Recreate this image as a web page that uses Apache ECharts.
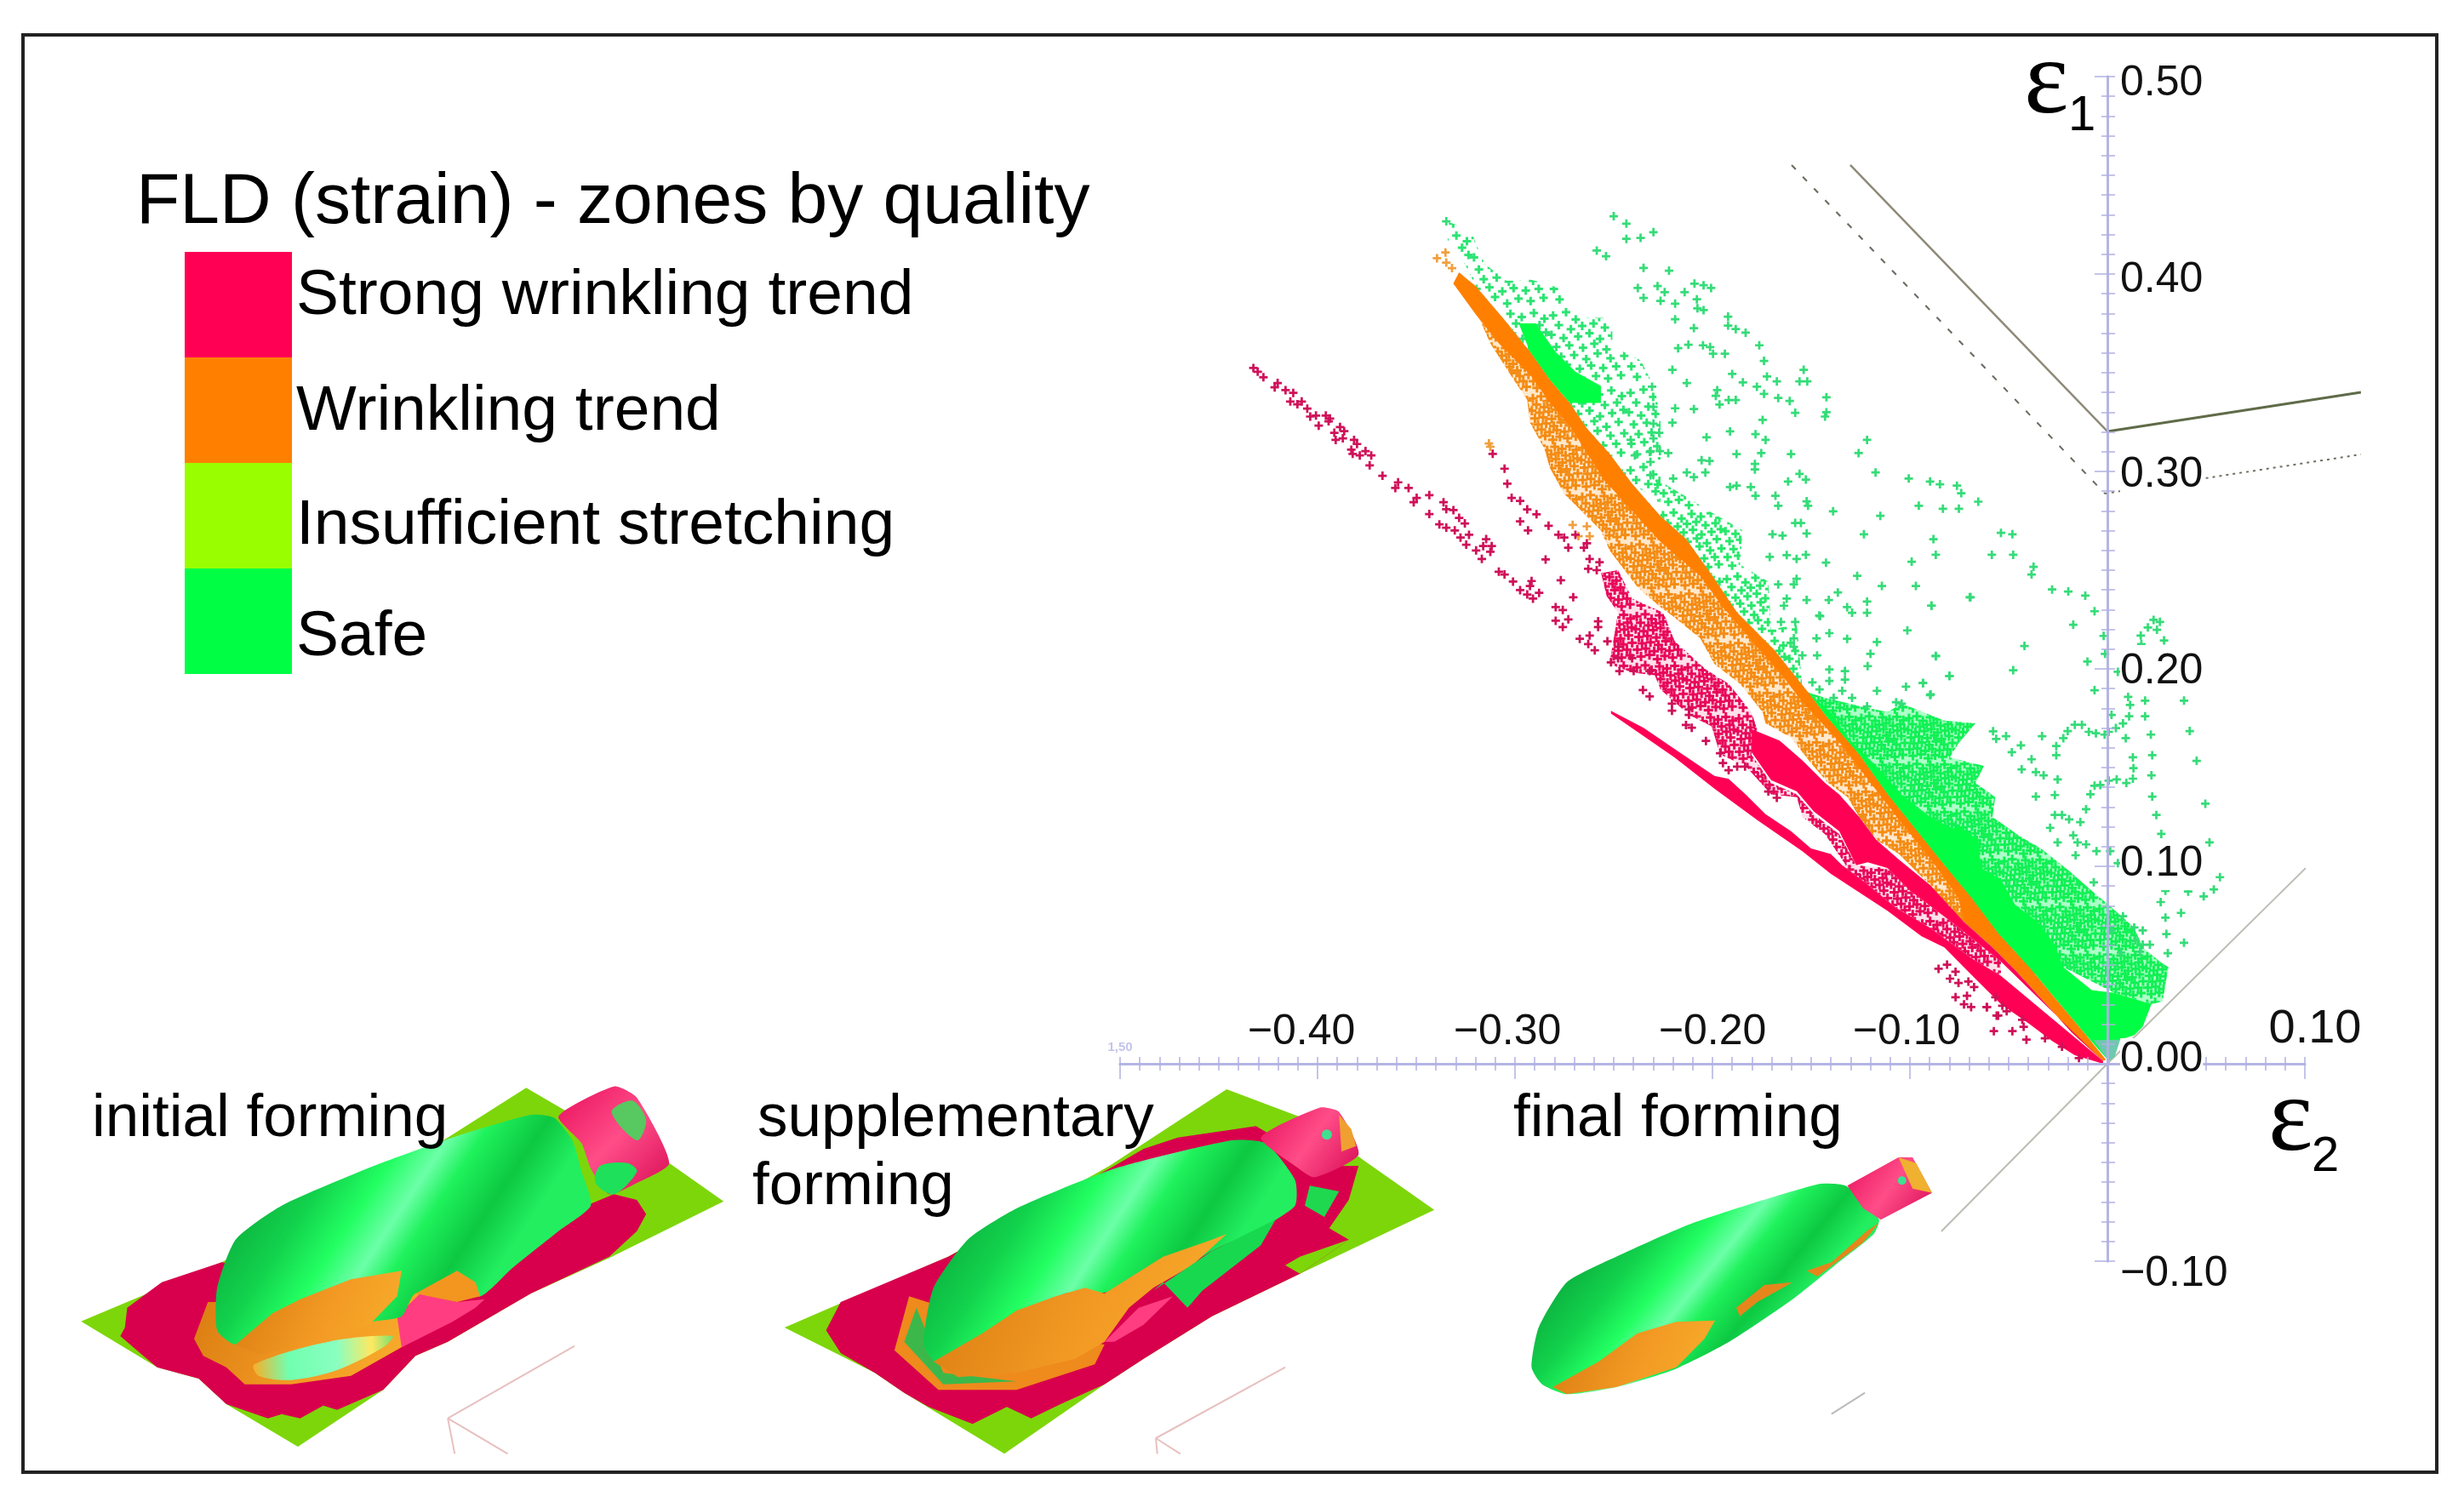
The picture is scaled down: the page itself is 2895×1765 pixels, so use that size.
<!DOCTYPE html>
<html><head><meta charset="utf-8">
<style>html,body{margin:0;padding:0;background:#fff}#c{width:2895px;height:1765px}</style>
<script src="https://cdn.jsdelivr.net/npm/echarts@6/dist/echarts.min.js"></script>
</head><body><div id="c"></div>
<script>
const zoneNames = ['Strong wrinkling trend','Wrinkling trend','Insufficient stretching','Safe'];
const xTickLabels = ['1,50','−0.40','−0.30','−0.20','−0.10','','0.10'];
const yTickLabels = ['−0.10','0.00','0.10','0.20','0.30','0.40','0.50'];
const titleText = 'FLD (strain) - zones by quality';

// forming limit curves and the equal-biaxial / pure-shear guide line
const limitSolid = [[-0.1302,0.4552],[0,0.3203]];
const limitSolidRight = [[0,0.3203],[0.1284,0.3401]];
const limitDashed = [[-0.1599,0.4552],[-0.0013,0.2888]];
const limitDotted = [[-0.0013,0.2888],[0.1284,0.3086]];
const guideLine = [[-0.0841,-0.0849],[0,0],[0.1004,0.0991]];

// individually readable marks
const safePoints = [
[-0.3348,0.4267],[-0.2586,0.4119],[-0.2500,0.4293],[-0.2436,0.4255],[-0.2436,0.4178],[-0.2364,0.4183],[-0.2299,0.4212],[-0.2539,0.4090],[-0.2349,0.4031],[-0.2220,0.4017],[-0.2378,0.3929],[-0.2278,0.3939],[-0.2242,0.3908],[-0.2349,0.3879],[-0.2263,0.3864],[-0.2189,0.3850],[-0.2141,0.3908],[-0.2091,0.3951],[-0.2045,0.3943],[-0.2007,0.3929],[-0.2079,0.3872],[-0.2076,0.3826],[-0.2045,0.3817],[-0.2189,0.3771],[-0.2094,0.3726],[-0.1921,0.3784],[-0.1921,0.3739],[-0.1882,0.3721],[-0.1832,0.3703],[-0.1763,0.3639],[-0.2174,0.3624],[-0.2122,0.3642],[-0.2048,0.3639],[-0.2012,0.3630],[-0.1997,0.3596],[-0.1937,0.3596],[-0.1739,0.3560],[-0.1538,0.3515],[-0.2203,0.3515],[-0.1900,0.3494],[-0.1724,0.3481],[-0.1674,0.3456],[-0.1559,0.3456],[-0.1520,0.3456],[-0.1846,0.3451],[-0.1775,0.3429],[-0.2130,0.3448],[-0.2306,0.3429],[-0.1976,0.3412],[-0.1983,0.3383],[-0.1739,0.3393],[-0.1667,0.3372],[-0.1609,0.3357],[-0.1423,0.3376],[-0.1918,0.3362],[-0.1882,0.3362],[-0.1964,0.3339],[-0.2299,0.3327],[-0.2189,0.3320],[-0.2094,0.3316],[-0.1581,0.3297],[-0.1423,0.3300],[-0.1430,0.3278],[-0.1746,0.3261],[-0.2203,0.3247],[-0.2299,0.3242],[-0.2270,0.3196],[-0.1911,0.3203],[-0.1782,0.3189],[-0.1731,0.3160],[-0.2030,0.3173],[-0.2414,0.3160],[-0.2299,0.3167],[-0.1217,0.3160],[-0.1260,0.3093],[-0.2313,0.3103],[-0.2266,0.3103],[-0.2224,0.3093],[-0.1878,0.3088],[-0.1753,0.3093],[-0.1602,0.3088],[-0.2055,0.3057],[-0.2015,0.3053],[-0.2393,0.3081],[-0.2314,0.3048],[-0.1785,0.3038],[-0.1785,0.3010],[-0.1174,0.2995],[-0.2130,0.2995],[-0.2094,0.2971],[-0.2036,0.2995],[-0.2199,0.2964],[-0.2314,0.2981],[-0.1559,0.2988],[-0.1527,0.2959],[-0.1617,0.2949],[-0.1006,0.2964],[-0.0898,0.2949],[-0.0848,0.2935],[-0.0762,0.2928],[-0.0740,0.2890],[-0.0654,0.2847],[-0.1911,0.2921],[-0.1878,0.2928],[-0.1806,0.2921],[-0.1782,0.2877],[-0.1681,0.2877],[-0.1667,0.2826],[-0.1523,0.2849],[-0.1516,0.2826],[-0.0955,0.2826],[-0.0833,0.2811],[-0.0752,0.2811],[-0.1389,0.2798],[-0.1150,0.2775],[-0.1581,0.2739],[-0.1552,0.2739],[-0.1523,0.2686],[-0.1696,0.2682],[-0.1645,0.2675],[-0.1233,0.2682],[-0.0881,0.2657],[-0.0869,0.2578],[-0.0539,0.2689],[-0.0481,0.2682],[-0.0585,0.2578],[-0.0477,0.2578],[-0.1710,0.2567],[-0.1624,0.2576],[-0.1574,0.2557],[-0.1527,0.2578],[-0.1425,0.2538],[-0.0991,0.2543],[-0.1267,0.2471],[-0.1667,0.2428],[-0.1574,0.2456],[-0.1588,0.2428],[-0.1142,0.2420],[-0.0970,0.2420],[-0.1365,0.2387],[-0.0697,0.2363],[-0.1523,0.2349],[-0.1411,0.2349],[-0.1217,0.2341],[-0.1217,0.2284],[-0.1624,0.2356],[-0.1638,0.2320],[-0.1318,0.2313],[-0.1293,0.2284],[-0.0891,0.2320],[-0.1459,0.2270],[-0.1581,0.2238],[-0.1653,0.2238],
[-0.1455,0.2267],[-0.1013,0.2195],[-0.1473,0.2155],[-0.1408,0.2181],[-0.1318,0.2152],[-0.1167,0.2136],[-0.1588,0.2155],[-0.1588,0.2112],[-0.1545,0.2068],[-0.1470,0.2068],[-0.1200,0.2076],[-0.1214,0.2014],[-0.0869,0.2064],[-0.0800,0.1964],[-0.0934,0.1928],[-0.1020,0.1910],[-0.0898,0.1867],[-0.1167,0.1889],[-0.1408,0.1997],[-0.1408,0.1939],[-0.1329,0.1989],[-0.1329,0.1946],[-0.1494,0.1932],[-0.1458,0.1896],[-0.1386,0.1853],[-0.1293,0.1853],[-0.1343,0.1889],[-0.1217,0.1810],[-0.1070,0.1831],[-0.1042,0.1824],
[-0.0374,0.2517],[-0.0384,0.2478],[-0.0280,0.2402],[-0.0198,0.2392],[-0.0112,0.2371],[-0.0693,0.2363],[-0.0891,0.2320],[-0.0065,0.2292],[0.0234,0.2248],[0.0266,0.2238],[-0.0173,0.2224],[0.0205,0.2210],[0.0251,0.2198],[0.0169,0.2169],[0.0172,0.2126],[0.0287,0.2144],[-0.0019,0.2167],[-0.0420,0.2116],[-0.0869,0.2066],[-0.0012,0.2076],[-0.0101,0.2037],[-0.0477,0.1993],[0.0053,0.1985],[-0.0800,0.1964],[-0.0934,0.1928],[-0.0895,0.1871],[-0.0065,0.1892],[0.0105,0.1858],[0.0115,0.1817],[0.0110,0.1760],[0.0191,0.1839],[0.0191,0.1760],[0.0388,0.1839],[0.0021,0.1767],[-0.0129,0.1717],[-0.0165,0.1717],[-0.0201,0.1685],[-0.0223,0.1649],[-0.0259,0.1609],[-0.0259,0.1563],[-0.0094,0.1681],[-0.0058,0.1674],[-0.0014,0.1667],[0.0007,0.1681],[0.0043,0.1700],[0.0079,0.1724],[0.0417,0.1685],[0.0220,0.1667],[0.0093,0.1649],[-0.0331,0.1659],[-0.0438,0.1613],[-0.0484,0.1578],[-0.0513,0.1659],[-0.0563,0.1645],[-0.0579,0.1684],[0.0227,0.1563],[0.0129,0.1552],[0.0132,0.1497],[0.0129,0.1444],[0.0096,0.1422],[0.0047,0.1440],[0.0007,0.1434],[-0.0036,0.1412],[-0.0065,0.1408],[-0.0086,0.1365],[0.0452,0.1534],[-0.0384,0.1542],[-0.0434,0.1491],[-0.0362,0.1477],[-0.0323,0.1461],[-0.0252,0.1440],[0.0223,0.1461],[0.0227,0.1353],[-0.0266,0.1361],[-0.0362,0.1353],[0.0496,0.1317],[-0.0108,0.1289],[0.0248,0.1260],[-0.0266,0.1260],[-0.0230,0.1260],[-0.0194,0.1238],[-0.0137,0.1224],[-0.0290,0.1195],[0.0273,0.1164],[-0.0173,0.1157],[-0.0151,0.1121],[-0.0108,0.1111],[-0.0252,0.1121],[0.0517,0.1121],[-0.0055,0.1077],[0.0014,0.1077],[-0.0161,0.1056],[0.0053,0.1016],[0.0570,0.0945],[0.0539,0.0883],[0.0488,0.0848],[0.0409,0.0872],[0.0294,0.0876],[-0.0069,0.0919],
[0.0270,0.0819],[0.0373,0.0764],[0.0294,0.0740],[0.0299,0.0657],[0.0388,0.0613],[0.0306,0.0560],[0.0079,0.0747],[0.0136,0.0690],[0.0179,0.0675],[0.0143,0.0625],[0.0179,0.0603],[0.0215,0.0603],[0.0165,0.0567],[0.0069,0.0563],[0.0021,0.0675]];

const wrinklingPoints = [[-0.3132,0.3142],[-0.3125,0.3125],[-0.3395,0.4080],[-0.3352,0.4109],[-0.3348,0.4058],[-0.3319,0.4030],[-0.2708,0.2729],[-0.2636,0.2722],[-0.2622,0.2672],[-0.2679,0.2672]];

const strongPoints = [
[-0.4325,0.3524],[-0.4303,0.3505],[-0.4274,0.3477],[-0.4202,0.3448],[-0.4217,0.3426],[-0.4162,0.3412],[-0.4123,0.3398],[-0.4138,0.3354],[-0.4102,0.3340],[-0.4080,0.3354],[-0.4052,0.3318],[-0.4037,0.3278],[-0.3994,0.3232],[-0.4008,0.3283],[-0.3958,0.3283],[-0.3937,0.3268],[-0.3944,0.3254],[-0.3886,0.3225],[-0.3865,0.3204],[-0.3915,0.3196],[-0.3908,0.3160],[-0.3872,0.3168],[-0.3815,0.3160],[-0.3800,0.3139],[-0.3829,0.3110],[-0.3822,0.3089],[-0.3786,0.3081],[-0.3757,0.3103],[-0.3728,0.3081],[-0.3736,0.3031],[-0.3671,0.2978],[-0.3592,0.2945],[-0.3606,0.2916],[-0.3539,0.2916],[-0.3498,0.2866],[-0.3513,0.2844],[-0.3434,0.2880],[-0.3362,0.2844],[-0.3348,0.2809],[-0.3312,0.2804],[-0.3434,0.2784],[-0.3283,0.2765],[-0.3254,0.2737],[-0.3383,0.2732],[-0.3348,0.2715],[-0.3305,0.2701],[-0.3276,0.2665],[-0.3233,0.2679],[-0.3247,0.2629],[-0.3146,0.2657],[-0.3161,0.2622],[-0.3118,0.2622],[-0.3125,0.2593],[-0.3197,0.2600],[-0.3168,0.2557],[-0.3082,0.2492],[-0.3053,0.2478],[-0.3010,0.2442],[-0.2916,0.2445],[-0.2924,0.2420],[-0.2974,0.2399],[-0.2938,0.2377],[-0.2909,0.2356],[-0.2878,0.2385],[-0.2794,0.2313],[-0.2758,0.2298],[-0.2794,0.2244],[-0.2730,0.2251],[-0.2758,0.2212],
[-0.3113,0.3089],[-0.3053,0.3014],[-0.3039,0.2938],[-0.3017,0.2866],[-0.2974,0.2851],[-0.2938,0.2808],[-0.2891,0.2783],[-0.2974,0.2747],[-0.2934,0.2701],[-0.2830,0.2725],[-0.2845,0.2554],[-0.2768,0.2449],[-0.2705,0.2363],[-0.2780,0.2679],[-0.2751,0.2665],[-0.2730,0.2614],[-0.2694,0.2679],[-0.2651,0.2614],[-0.2636,0.2636],[-0.2622,0.2557],[-0.2572,0.2540],[-0.2629,0.2507],[-0.2586,0.2500],
[-0.2579,0.2241],[-0.2579,0.2212],[-0.2622,0.2169],[-0.2672,0.2152],[-0.2629,0.2126],[-0.2596,0.2094],[-0.2532,0.2140],[-0.2478,0.2112],[-0.2478,0.2054],[-0.2514,0.2033],[-0.2407,0.2054],[-0.2471,0.1989],[-0.2399,0.1989],[-0.2318,0.1989],[-0.2352,0.1893],[-0.2318,0.1860],[-0.2205,0.1824],[-0.2205,0.1788],[-0.2119,0.1795],[-0.2119,0.1767],[-0.2134,0.1716],[-0.2105,0.1702],[-0.2033,0.1635],[-0.1961,0.1573],[-0.1947,0.1523],[-0.1918,0.1487],[-0.1875,0.1505],[-0.1835,0.1505],[-0.1717,0.1379],[-0.1674,0.1347],
[-0.0855,0.0481],[-0.0812,0.0502],[-0.0769,0.0466],[-0.0797,0.0431],[-0.0754,0.0409],[-0.0704,0.0416],[-0.0769,0.0337],[-0.0711,0.0344],[-0.0726,0.0301],[-0.0690,0.0287],[-0.0675,0.0388],[-0.0610,0.0287],[-0.0567,0.0337],[-0.0553,0.0244],[-0.0575,0.0165],[-0.0611,0.0287],[-0.0561,0.0244],[-0.0481,0.0165],[-0.0510,0.0266],[-0.0424,0.0187],[-0.0410,0.0122],[-0.0532,0.0294],[-0.0431,0.0223],[-0.0316,0.0129],[-0.0230,0.0086],[-0.0144,0.0029]];

// regions too dense to separate into marks: outlines
const safeUpperFringe = [[-0.3348,0.4267],[-0.3226,0.4224],[-0.3154,0.4051],[-0.3039,0.3965],[-0.2924,0.3972],[-0.2838,0.3951],[-0.2766,0.3922],[-0.2708,0.3836],[-0.2636,0.3778],[-0.2507,0.3778],[-0.2507,0.3635],[-0.2363,0.3563],[-0.2291,0.3419],[-0.2263,0.3261],[-0.2263,0.3060],[-0.2263,0.2844],[-0.2407,0.2938],[-0.2521,0.3089],[-0.2636,0.3218],[-0.2723,0.3347],[-0.2823,0.3462],[-0.2924,0.3606],[-0.3039,0.3750],[-0.3197,0.3936],[-0.3283,0.4109],[-0.3340,0.4166]];
const safeUpperCore = [[-0.2981,0.3750],[-0.2895,0.3750],[-0.2794,0.3606],[-0.2694,0.3505],[-0.2565,0.3433],[-0.2565,0.3347],[-0.2723,0.3347],[-0.2823,0.3462],[-0.2924,0.3606]];
const safeMidFringe = [[-0.2306,0.2974],[-0.2134,0.2873],[-0.2019,0.2801],[-0.1847,0.2701],[-0.1861,0.2528],[-0.1717,0.2442],[-0.1703,0.2198],[-0.1573,0.2227],[-0.1545,0.1910],[-0.1516,0.1882],[-0.1688,0.2097],[-0.1875,0.2284],[-0.1990,0.2456],[-0.2134,0.2658],[-0.2263,0.2773]];
const safeLowerFringe = [[-0.1516,0.1882],[-0.1430,0.1853],[-0.1250,0.1810],[-0.1113,0.1781],[-0.1042,0.1824],[-0.0826,0.1738],[-0.0668,0.1724],[-0.0754,0.1623],[-0.0798,0.1552],[-0.0625,0.1509],[-0.0668,0.1422],[-0.0568,0.1350],[-0.0582,0.1250],[-0.0438,0.1149],[-0.0338,0.1092],[-0.0194,0.0977],[-0.0079,0.0876],[0.0007,0.0804],[0.0136,0.0690],[0.0179,0.0589],[0.0266,0.0517],[0.0309,0.0489],[0.0280,0.0316],[0.0223,0.0302],[0.0036,0.0359],[-0.0223,0.0489],[-0.0395,0.0445],[-0.1113,0.1364]];
const safeCore = [[-0.1516,0.1882],[-0.1401,0.1781],[-0.1315,0.1652],[-0.1171,0.1508],[-0.1042,0.1364],[-0.0898,0.1250],[-0.0783,0.1192],[-0.0754,0.1207],[-0.0654,0.1135],[-0.0640,0.0991],[-0.0539,0.0934],[-0.0467,0.0804],[-0.0352,0.0718],[-0.0266,0.0603],[-0.0223,0.0489],[-0.0079,0.0373],[0.0036,0.0359],[0.0223,0.0302],[0.0179,0.0187],[0.0136,0.0144],[0.0064,0.0122],[0.0036,0.0036],[0.0007,0.0014],[-0.0108,0.0144],[-0.0252,0.0316],[-0.0395,0.0488],[-0.0553,0.0661],[-0.0683,0.0833],[-0.0826,0.1006],[-0.1113,0.1364],[-0.1257,0.1566],[-0.1430,0.1767]];
const overlapPatch = [[-0.0070,0.0120],[0.0064,0.0122],[0.0036,0.0036],[0.0007,0.0014]];
const wrinklingSpeckle = [[-0.3283,0.4008],[-0.3197,0.3936],[-0.3039,0.3750],[-0.2924,0.3606],[-0.2823,0.3462],[-0.2723,0.3347],[-0.2636,0.3218],[-0.2521,0.3089],[-0.2407,0.2938],[-0.2263,0.2773],[-0.2134,0.2658],[-0.1990,0.2456],[-0.1875,0.2284],[-0.1688,0.2097],[-0.1516,0.1882],[-0.1430,0.1767],[-0.1257,0.1566],[-0.1113,0.1364],[-0.0826,0.1006],[-0.0683,0.0833],[-0.0726,0.0718],[-0.0783,0.0761],[-0.0898,0.0905],[-0.1056,0.1063],[-0.1171,0.1135],[-0.1257,0.1250],[-0.1315,0.1350],[-0.1415,0.1422],[-0.1501,0.1523],[-0.1602,0.1652],[-0.1731,0.1724],[-0.1746,0.1781],[-0.1861,0.1925],[-0.1990,0.2025],[-0.2062,0.2155],[-0.2205,0.2270],[-0.2263,0.2313],[-0.2378,0.2413],[-0.2478,0.2543],[-0.2521,0.2600],[-0.2565,0.2701],[-0.2679,0.2816],[-0.2751,0.2887],[-0.2823,0.3017],[-0.2852,0.3117],[-0.2924,0.3247],[-0.2938,0.3362],[-0.3024,0.3491],[-0.3125,0.3649],[-0.3182,0.3778],[-0.3312,0.3951]];
const wrinklingCore = [[-0.3283,0.4008],[-0.3197,0.3936],[-0.3039,0.3750],[-0.2924,0.3606],[-0.2823,0.3462],[-0.2723,0.3347],[-0.2636,0.3218],[-0.2521,0.3089],[-0.2407,0.2938],[-0.2263,0.2773],[-0.2134,0.2658],[-0.1990,0.2456],[-0.1875,0.2284],[-0.1688,0.2097],[-0.1516,0.1882],[-0.1430,0.1767],[-0.1257,0.1566],[-0.1113,0.1364],[-0.0826,0.1006],[-0.0683,0.0833],[-0.0553,0.0661],[-0.0395,0.0488],[-0.0252,0.0316],[-0.0108,0.0144],[-0.0007,0.0021],[-0.0022,0.0014],[-0.0180,0.0158],[-0.0323,0.0316],[-0.0467,0.0474],[-0.0582,0.0589],[-0.0726,0.0718],[-0.0754,0.0840],[-0.0898,0.1040],[-0.1042,0.1220],[-0.1200,0.1423],[-0.1358,0.1630],[-0.1544,0.1831],[-0.1631,0.1946],[-0.1803,0.2147],[-0.1947,0.2313],[-0.2062,0.2471],[-0.2263,0.2643],[-0.2407,0.2801],[-0.2550,0.2959],[-0.2651,0.3117],[-0.2723,0.3232],[-0.2823,0.3347],[-0.2924,0.3491],[-0.3082,0.3649],[-0.3197,0.3793],[-0.3312,0.3951]];
const strongSpeckle = [[-0.2564,0.2485],[-0.2478,0.2500],[-0.2406,0.2356],[-0.2249,0.2284],[-0.2191,0.2140],[-0.2033,0.1997],[-0.1918,0.1925],[-0.1803,0.1781],[-0.1774,0.1695],[-0.1803,0.1566],[-0.1703,0.1422],[-0.1573,0.1364],[-0.1487,0.1264],[-0.1358,0.1163],[-0.1272,0.1005],[-0.1315,0.0991],[-0.1430,0.1163],[-0.1544,0.1250],[-0.1573,0.1350],[-0.1703,0.1364],[-0.1832,0.1508],[-0.1961,0.1566],[-0.2004,0.1709],[-0.2119,0.1767],[-0.2263,0.1896],[-0.2292,0.1968],[-0.2407,0.1982],[-0.2522,0.2025],[-0.2478,0.2284],[-0.2536,0.2370]];
const strongGapSpeckle = [[-0.1272,0.1005],[-0.1114,0.0991],[-0.0999,0.0876],[-0.0769,0.0703],[-0.0539,0.0517],[-0.0539,0.0445],[-0.0683,0.0531],[-0.0898,0.0689],[-0.1070,0.0790],[-0.1228,0.0919],[-0.1343,0.1005]];
const strongUpperCore = [[-0.1803,0.1695],[-0.1660,0.1637],[-0.1545,0.1537],[-0.1430,0.1422],[-0.1358,0.1364],[-0.1257,0.1250],[-0.1171,0.1135],[-0.1056,0.1034],[-0.0898,0.0905],[-0.0726,0.0718],[-0.0582,0.0589],[-0.0467,0.0474],[-0.0323,0.0316],[-0.0180,0.0158],[-0.0022,0.0014],[-0.0539,0.0517],[-0.0769,0.0703],[-0.0999,0.0876],[-0.1114,0.0991],[-0.1214,0.1020],[-0.1272,0.1005],[-0.1358,0.1178],[-0.1487,0.1278],[-0.1573,0.1379],[-0.1703,0.1436],[-0.1803,0.1580]];
const strongLowerBand = [[-0.2514,0.1788],[-0.2349,0.1702],[-0.2191,0.1594],[-0.1990,0.1458],[-0.1918,0.1443],[-0.1832,0.1364],[-0.1731,0.1264],[-0.1602,0.1178],[-0.1501,0.1091],[-0.1401,0.1063],[-0.1343,0.1005],[-0.1228,0.0919],[-0.1070,0.0790],[-0.0898,0.0689],[-0.0683,0.0531],[-0.0539,0.0445],[-0.0022,0.0014],[-0.0022,0.0000],[-0.0165,0.0043],[-0.0280,0.0115],[-0.0395,0.0201],[-0.0539,0.0302],[-0.0683,0.0445],[-0.0826,0.0589],[-0.0941,0.0646],[-0.1114,0.0775],[-0.1401,0.0962],[-0.1545,0.1077],[-0.1774,0.1235],[-0.1990,0.1393],[-0.2191,0.1551],[-0.2514,0.1774]];

const COL = {strong:'#ff0055', wrinkling:'#ff8000', insufficient:'#99ff00', safe:'#00ff44'};

// hand-placed speckle tile used as the fill of dense point clouds
const tileMarks = [[5,7],[21,3],[33,12],[48,5],[62,9],[77,4],[90,11],[12,19],[27,24],[41,20],[55,17],[69,22],[84,19],[3,31],[18,35],[36,33],[50,29],[63,36],[78,32],[92,28],[9,46],[25,44],[42,47],[56,42],[71,49],[86,43],[15,58],[31,56],[46,61],[60,54],[76,60],[93,57],[6,70],[22,68],[38,73],[52,69],[67,72],[83,70],[13,83],[29,80],[44,88],[58,82],[73,85],[89,81]];
function speckle(color, bg, scale, size){
  const t=Math.round(96*scale), c=document.createElement('canvas'); c.width=t; c.height=t;
  const g=c.getContext('2d');
  if(bg){g.fillStyle=bg; g.fillRect(0,0,t,t);}
  g.fillStyle=color;
  tileMarks.forEach(m=>{
    [-t,0,t].forEach(dx=>[-t,0,t].forEach(dy=>{
      const x=m[0]*scale+dx, y=m[1]*scale+dy;
      g.fillRect(x-size/2, y-1.5, size, 3);
      g.fillRect(x-1.5, y-size/2, 3, size);
    }));
  });
  return {image:c, repeat:'repeat'};
}
const orangeTile = speckle('#f48c14','rgba(255,190,110,.35)',.6,11);
const pinkTile = speckle('#e8085a','rgba(255,130,175,.25)',.62,11);
const greenDense = speckle('#12f055','rgba(40,255,110,.38)',.58,11);
const greenMid = speckle('#28e86c',null,.78,10);
const greenSparse = speckle('#2ce472',null,.95,10);

function region(name, pts, fill){
  return {type:'custom', name, coordinateSystem:'cartesian2d', silent:true, clip:false,
    encode:{x:0,y:1}, data:pts, animation:false,
    renderItem(params, api){
      if(params.dataIndex!==0) return null;
      return {type:'polygon', shape:{points:pts.map(p=>api.coord(p))}, style:{fill}};
    }};
}
const plus='path://M4 0h3v4h4v3H7v4H4V7H0V4h4z';
function marks(name, data, color){
  return {type:'scatter', name, data, symbol:plus, symbolSize:10, itemStyle:{color,opacity:1}, silent:true, animation:false};
}
function curve(data, stroke, lineWidth, lineDash){
  return {type:'custom', coordinateSystem:'cartesian2d', silent:true, clip:false, encode:{x:0,y:1}, data, animation:false,
    renderItem(params, api){
      if(params.dataIndex!==0) return null;
      return {type:'polyline', shape:{points:data.map(p=>api.coord(p))}, style:{stroke,lineWidth,lineDash:lineDash||null,fill:null}};
    }};
}

const rich = {};
function lab(key, left, right, top, bottom, extra){
  rich[key]=Object.assign({fontSize:50,fontFamily:'Liberation Sans',color:'#111',padding:[top,right,bottom,left]},extra||{});
}
lab('x0',0,0,0,0,{fontSize:15,fontWeight:'bold',color:'#c4c4ec'});
lab('x1',0,38,0,0); lab('x2',0,18,0,0); lab('x3',0,0,0,0); lab('x4',0,8,0,0); lab('x6',24,0,0,0,{fontSize:56});
lab('y0',0,0,30,0); lab('y1',0,0,0,10); lab('y2',0,0,0,6); lab('y3',0,0,6,0); lab('y4',0,0,8,0); lab('y5',0,0,14,0); lab('y6',0,0,16,0);

const axisColor='rgba(176,176,226,.75)';
const axLine={onZero:true,onZeroAxisIndex:0,lineStyle:{color:axisColor,width:3}};
const axLineOff={onZero:false,lineStyle:{color:axisColor,width:3}};
function xAx(position,tick,extra){
  return Object.assign({type:'value',position,min:-0.5,max:0.1,interval:0.1,z:3,
    axisLine:axLine,splitLine:{show:false},minorSplitLine:{show:false},
    axisTick:{show:true,length:tick,lineStyle:{color:axisColor,width:2}},
    minorTick:{show:true,splitNumber:10,length:8,lineStyle:{color:axisColor,width:2}},
    axisLabel:{show:false}},extra||{});
}
function yAx(position,tick,minor,extra){
  return Object.assign({type:'value',position,min:-0.1,max:0.5,interval:0.1,z:3,
    axisLine:axLine,splitLine:{show:false},minorSplitLine:{show:false},
    axisTick:{show:true,length:tick,lineStyle:{color:axisColor,width:2}},
    minorTick:{show:true,splitNumber:10,length:minor,lineStyle:{color:axisColor,width:2}},
    axisLabel:{show:false}},extra||{});
}

// ---- decorative renderings of the formed parts (not data) ----
const G=echarts.graphic.LinearGradient;
const bodyGrad=(x,y,x2,y2)=>new G(x,y,x2,y2,[{offset:0,color:'#0aa53a'},{offset:.28,color:'#12d24c'},{offset:.45,color:'#22ff62'},{offset:.58,color:'#6cffa8'},{offset:.68,color:'#1ff25c'},{offset:.85,color:'#0dc842'},{offset:1,color:'#22ee60'}]);
const orangeGrad=new G(0,0,1,1,[{offset:0,color:'#d87a10'},{offset:.55,color:'#f39a24'},{offset:1,color:'#f7b02c'}]);
const neckGrad=new G(0,0,1,1,[{offset:0,color:'#e80f5c'},{offset:.5,color:'#ff4d88'},{offset:1,color:'#d80a55'}]);
function maker(x0,y0,sx,sy){
  const t=p=>p.map(q=>[x0+q[0]*sx,y0+q[1]*sy]);
  return {
    p:(pts,fill,smooth)=>({type:'polygon',z:5,silent:true,shape:{points:t(pts),smooth:smooth||0},style:{fill}}),
    l:(pts,stroke,w)=>({type:'polyline',z:5,silent:true,shape:{points:t(pts)},style:{stroke,lineWidth:w,fill:null}}),
    dot:(x,y,r,fill)=>({type:'circle',z:5,silent:true,shape:{cx:x0+x*sx,cy:y0+y*sy,r},style:{fill}})
  };
}
const a=maker(60,1230,.542,1/3), b=maker(850,1230,.574,1/3), d=maker(1700,1280,.4145,1/3);
const lime='#7dd60a', crimson='#d8004c';
const parts=[
 a.p([[65,968],[370,760],[860,320],[1030,145],[1120,230],[1340,410],[1458,545],[1210,745],[1040,870],[860,1040],[790,1090],[720,1210],[535,1410],[380,1260],[320,1170],[230,1130]],lime),
 a.p([[160,990],[165,920],[240,830],[370,760],[500,800],[1000,600],[1160,560],[1220,520],[1270,540],[1290,590],[1270,650],[1210,740],[1040,870],[860,1040],[790,1090],[720,1210],[620,1280],[590,1265],[540,1310],[500,1295],[470,1310],[380,1260],[320,1170],[230,1130],[200,1090],[150,1020]],crimson),
 a.p([[310,1030],[340,900],[600,900],[760,800],[800,870],[770,1050],[650,1160],[520,1190],[420,1190],[380,1130],[330,1090]],orangeGrad),
 a.p([[750,950],[800,870],[880,900],[940,890],[920,920],[870,970],[760,1060]],'#ff3d80'),
 a.p([[440,1120],[600,1040],[740,1020],[720,1060],[620,1140],[520,1175],[450,1160]],new G(0,.5,1,.3,[{offset:0,color:'#f7b02c'},{offset:.25,color:'#70ffb0'},{offset:.6,color:'#8affc0'},{offset:.85,color:'#ffe860'},{offset:1,color:'#7be070'}]),.3),
 a.p([[360,1000],[360,850],[400,680],[500,560],[700,420],[870,320],[1040,240],[1090,250],[1130,330],[1150,440],[1170,560],[1100,650],[1000,780],[930,880],[790,870],[760,950],[690,970],[400,1050]],bodyGrad(.12,.1,.72,.75),.2),
 a.p([[400,1050],[480,940],[540,890],[650,820],[760,790],[750,880],[690,980],[600,1040],[450,1085]],orangeGrad),
 a.p([[790,870],[880,790],[920,830],[930,880],[880,900]],'#f2961f'),
 a.p([[1100,245],[1220,140],[1270,180],[1340,410],[1270,480],[1210,520],[1170,430],[1150,340]],neckGrad,.2),
 a.p([[1190,420],[1250,410],[1270,440],[1220,520],[1180,480]],'#1fe05a',.3),
 a.p([[1215,230],[1260,190],[1290,260],[1270,330]],'#58c860',.3),
 a.l([[860,1310],[1135,1055]],'#e8c0c0',2), a.l([[860,1310],[990,1435]],'#e8c0c0',2), a.l([[860,1310],[875,1435]],'#e8c0c0',2),

 b.p([[125,990],[460,740],[790,420],[1030,150],[1200,260],[1310,400],[1455,575],[1180,800],[1000,950],[860,1100],[780,1190],[575,1435],[370,1220],[310,1150]],lime),
 b.p([[210,1000],[240,900],[460,740],[800,420],[860,360],[930,320],[1090,280],[1110,300],[1200,420],[1300,420],[1280,540],[1240,640],[1280,680],[1180,800],[1000,950],[860,1100],[780,1190],[690,1260],[630,1310],[580,1270],[510,1330],[420,1270],[370,1220],[310,1150],[240,1080]],crimson),
 b.p([[1150,770],[1180,740],[1280,680],[1180,800]],lime),
 b.p([[1200,490],[1260,510],[1230,600],[1190,560]],'#1fd850'),
 b.p([[350,1070],[380,880],[600,1000],[780,1050],[760,1120],[600,1210],[440,1210]],'#ef8a1c'),
 b.p([[370,1040],[395,920],[450,1150],[600,1180],[450,1190]],'#3cb84a'),
 b.p([[780,1040],[850,920],[920,880],[860,980],[800,1040]],'#ff3d80'),
 b.p([[410,1050],[430,850],[500,680],[600,570],[800,430],[1040,330],[1110,340],[1170,470],[1170,560],[1100,640],[1000,720],[880,840],[760,870],[700,870],[600,950],[500,1060],[440,1120]],bodyGrad(.12,.1,.72,.75),.2),
 b.p([[430,1110],[530,1010],[600,930],[680,880],[740,850],[780,870],[900,740],[1000,680],[1030,660],[960,770],[880,850],[830,920],[780,1040],[720,1100],[600,1150],[480,1165]],orangeGrad),
 b.p([[880,860],[1000,720],[1130,610],[1100,700],[980,860],[950,920],[900,830]],'#18d850'),
 b.p([[1100,320],[1220,215],[1260,230],[1300,380],[1210,460],[1170,420]],neckGrad,.2),
 b.p([[1260,240],[1285,290],[1295,350],[1265,370]],'#f0a030'),
 b.dot(1235,310,6,'#40e090'),
 b.l([[885,1380],[1150,1130]],'#e8c0c0',2), b.l([[885,1380],[935,1435]],'#e8c0c0',2), b.l([[885,1380],[888,1435]],'#e8c0c0',2),

 d.p([[240,980],[260,840],[340,680],[480,590],[700,470],[1050,335],[1130,340],[1190,410],[1225,460],[1210,510],[1100,620],[980,740],[800,890],[640,990],[480,1050],[340,1075],[270,1040]],bodyGrad(.2,.1,.68,.75),.2),
 d.p([[300,1050],[430,960],[540,860],[650,820],[760,815],[730,880],[650,980],[480,1050],[340,1075]],orangeGrad),
 d.p([[820,770],[900,690],[980,680],[880,750],[830,800]],'#e5861c'),
 d.p([[1020,640],[1090,610],[1190,500],[1225,470],[1180,540],[1050,660]],'#e5861c'),
 d.p([[1135,340],[1280,240],[1320,240],[1375,365],[1230,460],[1180,420]],neckGrad),
 d.p([[1280,240],[1330,260],[1375,365],[1320,350]],'#f0b030'),
 d.dot(1290,322,5,'#40e090'),
 d.l([[1090,1145],[1185,1070]],'#bbb',2)
];

function txt(text,x,baseline,size,family){
  return {type:'text',z:6,silent:true,style:{text,x,y:baseline-size*0.85,font:'normal '+size+'px "'+(family||'Liberation Sans')+'"',fill:'#000',verticalAlign:'top'}};
}
const annotations=[
 txt('initial forming',108,1340,71),
 txt('supplementary',890,1340,71),
 txt('forming',884,1420,71),
 txt('final forming',1778,1340,71),
 txt('ε',2378,143,125,'Liberation Serif'),
 txt('1',2430,157,58),
 txt('ε',2665,1362,125,'Liberation Serif'),
 txt('2',2716,1380,58)
];
const frame=[
 {type:'rect',z:0,silent:true,shape:{x:27,y:41,width:2836,height:1689},style:{fill:'#fff',stroke:'#222',lineWidth:4}},
 {type:'rect',z:7,silent:true,shape:{x:2776,y:1170,width:30,height:70},style:{fill:'#fff'}}
];

const chart=echarts.init(document.getElementById('c'),null,{renderer:'canvas'});
const legendRich=(t,b)=>({fontFamily:'Liberation Sans',fontSize:75,color:'#000',padding:[t,0,b,0]});
chart.setOption({
  animation:false, backgroundColor:'#fff',
  title:{text:titleText,left:160,top:197,padding:0,textStyle:{fontFamily:'Liberation Sans',fontWeight:'normal',fontSize:84,color:'#000'}},
  legend:{orient:'vertical',left:217,top:296,padding:0,itemGap:0,itemWidth:126,itemHeight:124,icon:'rect',selectedMode:false,
    data:zoneNames.map((n,i)=>({name:n,itemStyle:{color:[COL.strong,COL.wrinkling,COL.insufficient,COL.safe][i],opacity:1}})),
    formatter:n=>'{t'+zoneNames.indexOf(n)+'|'+n+'}',
    textStyle:{fontFamily:'Liberation Sans',fontSize:75,color:'#000',rich:{
      t0:legendRich(0,20),t1:legendRich(4,0),t2:legendRich(24,0),t3:legendRich(38,0)}}},
  grid:{left:1316,top:90,width:1392,height:1392,containLabel:false},
  xAxis:[xAx('bottom',18),
    xAx('top',8,{offset:-1160,axisLine:axLineOff,axisLabel:{show:true,margin:12,hideOverlap:false,showMinLabel:true,showMaxLabel:true,rich,
      formatter:v=>{const i=Math.round((v+0.5)*10);return xTickLabels[i]?('{x'+i+'|'+xTickLabels[i]+'}'):'';}}})],
  yAxis:[yAx('left',15,7),
    yAx('right',9,9,{offset:-232,axisLine:axLineOff,axisLabel:{show:true,margin:15,hideOverlap:false,showMinLabel:true,showMaxLabel:true,rich,backgroundColor:'#fff',
      formatter:v=>{const i=Math.round((v+0.1)*10);return '{y'+i+'|'+yTickLabels[i]+'}';}}})],
  series:[
    curve(guideLine,'#bdbdb5',2),
    curve(limitSolid,'#8f8a78',2.5),
    curve(limitSolidRight,'#5f6b48',3),
    curve(limitDashed,'#6a6a60',2,[7,12]),
    curve(limitDotted,'#6f6f60',2,[3,5]),
    {type:'scatter',name:zoneNames[2],data:[],itemStyle:{color:COL.insufficient,opacity:1}},
    region(zoneNames[3],safeUpperFringe,greenSparse),
    region(zoneNames[3],safeMidFringe,greenMid),
    region(zoneNames[3],safeLowerFringe,greenDense),
    region(zoneNames[3],safeUpperCore,COL.safe),
    region(zoneNames[3],safeCore,COL.safe),
    region(zoneNames[1],wrinklingSpeckle,orangeTile),
    region(zoneNames[1],wrinklingCore,COL.wrinkling),
    region(zoneNames[0],strongSpeckle,pinkTile),
    region(zoneNames[0],strongGapSpeckle,pinkTile),
    region(zoneNames[0],strongUpperCore,COL.strong),
    region(zoneNames[0],strongLowerBand,COL.strong),
    region(zoneNames[3],overlapPatch,'#6fc8b0'),
    marks(zoneNames[3],safePoints,'#35dc78'),
    marks(zoneNames[1],wrinklingPoints,'#f0a040'),
    marks(zoneNames[0],strongPoints,'#cf1159')
  ],
  graphic:{elements:[...frame,...parts,...annotations]}
});
</script></body></html>
